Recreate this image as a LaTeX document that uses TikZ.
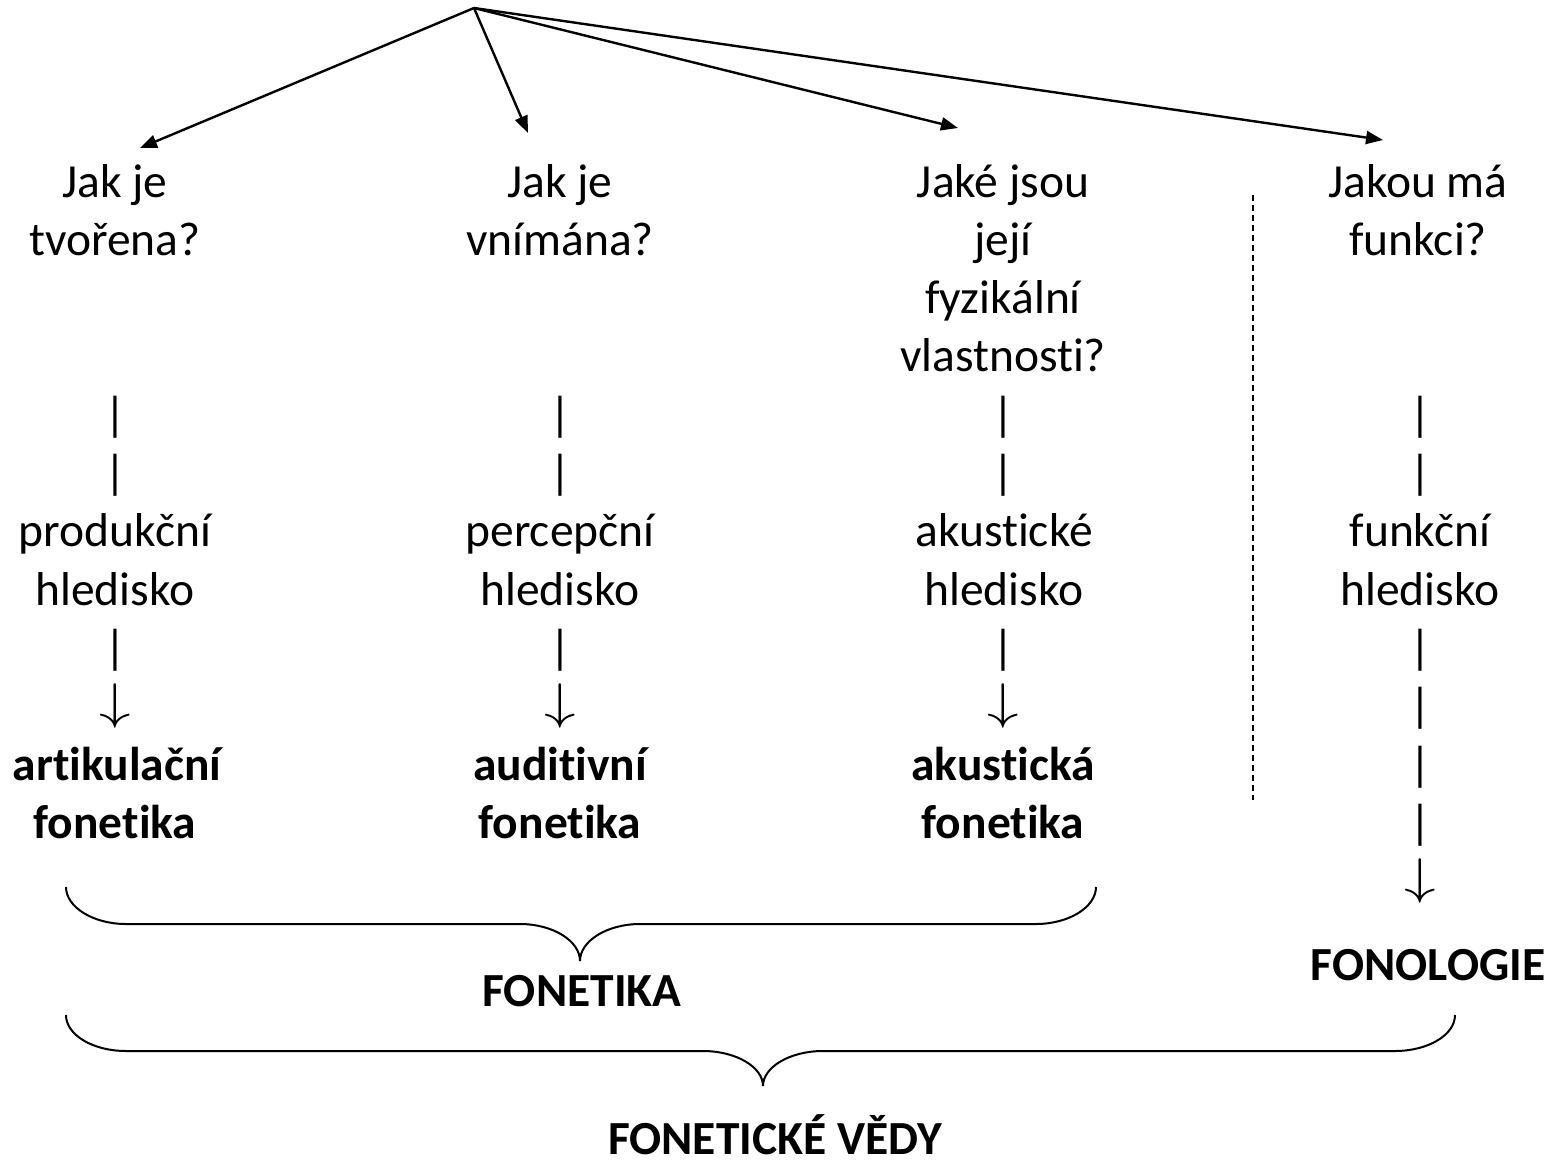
\documentclass[tikz,border=0pt]{standalone}
\usepackage{graphicx}
\usepackage{fontspec}
\setmainfont{Carlito}[Ligatures=NoCommon]
\usetikzlibrary{arrows.meta}
\newcommand{\dnarrow}{\scalebox{6.3}[5.0]{\fontsize{10}{12}\selectfont$\downarrow$}}
\begin{document}
\begin{tikzpicture}[x=1pt,y=-1pt,
  txt/.style={anchor=base,inner sep=0pt,font=\fontsize{47.5}{57}\selectfont},
  bld/.style={anchor=base,inner sep=0pt,font=\fontsize{47.5}{57}\selectfont\bfseries},
  dn/.style={anchor=base,inner sep=0pt},
  ray/.style={line width=2.4pt,-{Triangle[length=17pt,width=13pt]}},
  brace/.style={line width=2pt},
  sepline/.style={line width=2pt,dash pattern=on 6pt off 4pt}]
\useasboundingbox (0,0) rectangle (1551,1163);
% rays
\coordinate (apex) at (474,8);
\coordinate (t1) at (140,148);
\coordinate (t2) at (528,133);
\coordinate (t3) at (958,128);
\coordinate (t4) at (1383,140);
\draw[ray] (apex) -- (t1);
\draw[ray] (apex) -- (t2);
\draw[ray] (apex) -- (t3);
\draw[ray] (apex) -- (t4);
% column 1
\node[txt] (q1a) at (115,197) {Jak je};
\node[txt] (q1b) at (115,255.3) {tvořena?};
\node[txt] (v1a) at (115,430.2) {|};
\node[txt] (v1b) at (115,488.5) {|};
\node[txt] (h1a) at (115,546.8) {produkční};
\node[txt] (h1b) at (115,605.1) {hledisko};
\node[txt] (v1c) at (115,663.4) {|};
\node[dn]  (d1) at (115,718.5) {\dnarrow};
\node[bld] (f1a) at (117,780) {artikulační};
\node[bld] (f1b) at (115,838.3) {fonetika};
% column 2
\node[txt] (q2a) at (560,197) {Jak je};
\node[txt] (q2b) at (560,255.3) {vnímána?};
\node[txt] (v2a) at (560,430.2) {|};
\node[txt] (v2b) at (560,488.5) {|};
\node[txt] (h2a) at (560,546.8) {percepční};
\node[txt] (h2b) at (560,605.1) {hledisko};
\node[txt] (v2c) at (560,663.4) {|};
\node[dn]  (d2) at (560,718.5) {\dnarrow};
\node[bld] (f2a) at (560,780) {auditivní};
\node[bld] (f2b) at (560,838.3) {fonetika};
% column 3
\node[txt] (q3a) at (1003,197) {Jaké jsou};
\node[txt] (q3b) at (1003,255.3) {její};
\node[txt] (q3c) at (1003,313.6) {fyzikální};
\node[txt] (q3d) at (1003,371.9) {vlastnosti?};
\node[txt] (v3a) at (1003,430.2) {|};
\node[txt] (v3b) at (1003,488.5) {|};
\node[txt] (h3a) at (1004,546.8) {akustické};
\node[txt] (h3b) at (1004,605.1) {hledisko};
\node[txt] (v3c) at (1003,663.4) {|};
\node[dn]  (d3) at (1003,718.5) {\dnarrow};
\node[bld] (f3a) at (1003,780) {akustická};
\node[bld] (f3b) at (1003,838.3) {fonetika};
% column 4
\node[txt] (q4a) at (1418,197) {Jakou má};
\node[txt] (q4b) at (1418,255.3) {funkci?};
\node[txt] (v4a) at (1420,430.2) {|};
\node[txt] (v4b) at (1420,488.5) {|};
\node[txt] (h4a) at (1420,546.8) {funkční};
\node[txt] (h4b) at (1420,605.1) {hledisko};
\node[txt] (v4c) at (1420,663.4) {|};
\node[txt] (v4d) at (1420,721.7) {|};
\node[txt] (v4e) at (1420,780) {|};
\node[txt] (v4f) at (1420,838.3) {|};
\node[dn]  (d4) at (1420,893.3) {\dnarrow};
\node[bld] (fon) at (1428,980) {FONOLOGIE};
% separator
\coordinate (s1) at (1253,195);
\coordinate (s2) at (1253,800);
\draw[sepline] (s1) -- (s2);
% brace 1
\coordinate (b1l) at (66,887);
\coordinate (b1r) at (1096,887);
\coordinate (b1t) at (580,961);
\draw[brace] (b1l) .. controls (66,907) and (93,924) .. (126,924) -- (520,924)
  .. controls (553,924) and (580,941) .. (b1t)
  .. controls (580,941) and (607,924) .. (640,924) -- (1036,924)
  .. controls (1069,924) and (1096,907) .. (b1r);
\node[bld] (fonetika) at (582,1006) {FONETIKA};
% brace 2
\coordinate (b2l) at (66,1015);
\coordinate (b2r) at (1455,1015);
\coordinate (b2t) at (763,1086);
\draw[brace] (b2l) .. controls (66,1035) and (93,1051) .. (126,1051) -- (703,1051)
  .. controls (736,1051) and (763,1067) .. (b2t)
  .. controls (763,1067) and (790,1051) .. (823,1051) -- (1395,1051)
  .. controls (1428,1051) and (1455,1035) .. (b2r);
\node[bld,text depth=0pt] (vedy) at (775,1154) {FONETICKÉ VĚDY};
\end{tikzpicture}
\end{document}
